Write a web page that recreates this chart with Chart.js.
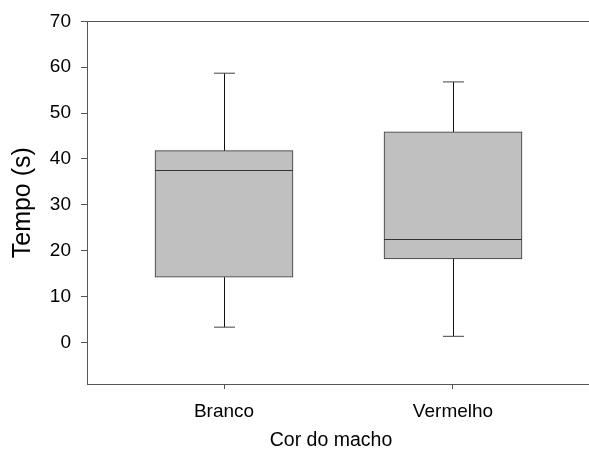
<!DOCTYPE html>
<html>
<head>
<meta charset="utf-8">
<script src="https://cdn.jsdelivr.net/npm/chart.js@4/dist/chart.umd.min.js"></script>
<style>
  html, body { margin: 0; padding: 0; background: #fff; }
  #wrap { width: 589px; height: 450px; }
</style>
</head>
<body>
<div id="wrap"><canvas id="box" width="589" height="450"></canvas></div>
<script>
    const categories = ["Branco", "Vermelho"];
    const minVals = [3.3, 1.3];
    const q1Vals = [14.2, 18.2];
    const medians = [37.6, 22.5];
    const q3Vals = [41.8, 45.9];
    const maxVals = [58.7, 56.8];
    const yTicks = [0, 10, 20, 30, 40, 50, 60, 70];

    const FONT = "'Liberation Sans', Arial, sans-serif";
    const AXIS = "#555";

    // whiskers + medians drawn on top of the floating bars
    const boxExtras = {
        id: "boxExtras",
        afterDatasetsDraw(chart) {
            const { ctx, scales: { x, y } } = chart;
            const meta = chart.getDatasetMeta(0);
            ctx.save();
            ctx.lineWidth = 1;
            categories.forEach((c, i) => {
                const bar = meta.data[i];
                const cx = Math.round(x.getPixelForValue(i + 1)) + 0.5;
                const half = bar.width / 2;
                const cap = 10.5;
                const yMin = y.getPixelForValue(minVals[i]);
                const yMax = y.getPixelForValue(maxVals[i]);
                const yQ1 = y.getPixelForValue(q1Vals[i]);
                const yQ3 = y.getPixelForValue(q3Vals[i]);
                const yMed = Math.round(y.getPixelForValue(medians[i])) + 0.5;

                ctx.strokeStyle = "#111";
                ctx.beginPath();
                ctx.moveTo(cx, yQ3); ctx.lineTo(cx, yMax);
                ctx.moveTo(cx, yQ1); ctx.lineTo(cx, yMin);
                ctx.stroke();

                ctx.strokeStyle = "#444";
                ctx.beginPath();
                ctx.moveTo(cx - cap, yMax); ctx.lineTo(cx + cap, yMax);
                ctx.moveTo(cx - cap, yMin); ctx.lineTo(cx + cap, yMin);
                ctx.stroke();

                ctx.strokeStyle = "#333";
                ctx.beginPath();
                ctx.moveTo(bar.x - half, yMed); ctx.lineTo(bar.x + half, yMed);
                ctx.stroke();
            });
            // top frame line, and both frame lines run on to the page edge
            const { left, right, top, bottom } = chart.chartArea;
            const t = Math.round(top) + 0.5;
            const b = Math.round(bottom) + 0.5;
            ctx.strokeStyle = AXIS;
            ctx.beginPath();
            ctx.moveTo(left, t);
            ctx.lineTo(chart.width, t);
            ctx.moveTo(right, b);
            ctx.lineTo(chart.width, b);
            ctx.stroke();
            ctx.restore();
        }
    };

    new Chart(document.getElementById("box"), {
        type: "bar",
        data: {
            datasets: [{
                data: categories.map((c, i) => ({ x: i + 1, y: [q1Vals[i], q3Vals[i]] })),
                backgroundColor: "#c0c0c0",
                borderColor: "#333",
                borderWidth: 1,
                borderSkipped: false,
                barThickness: 138,
            }],
        },
        options: {
            responsive: false,
            animation: false,
            layout: { padding: { top: 19, right: 14, left: 0, bottom: 0 } },
            plugins: { legend: { display: false }, tooltip: { enabled: false } },
            scales: {
                x: {
                    type: "linear",
                    offset: false,
                    bounds: "data",
                    min: 0.4017,
                    max: 2.5328,
                    afterBuildTicks: (s) => { s.ticks = categories.map((c, i) => ({ value: i + 1 })); },
                    afterFit: (s) => { s.height = 66; },
                    ticks: {
                        callback: (v) => categories[v - 1] || "",
                        color: "#000",
                        font: { family: FONT, size: 19 },
                        padding: 11,
                        maxRotation: 0,
                    },
                    grid: { offset: false, drawOnChartArea: false, drawTicks: true, tickLength: 5, tickColor: AXIS },
                    border: { color: AXIS, width: 1 },
                    title: {
                        display: true,
                        text: "Cor do macho",
                        color: "#000",
                        font: { family: FONT, size: 19.5 },
                        padding: { top: 0, bottom: -2 },
                    },
                },
                y: {
                    min: -9.1,
                    max: 70,
                    afterBuildTicks: (s) => { s.ticks = yTicks.map((v) => ({ value: v })); },
                    afterFit: (s) => { s.width = 87; },
                    ticks: {
                        color: "#000",
                        font: { family: FONT, size: 19 },
                        padding: 10,
                    },
                    grid: { drawOnChartArea: false, drawTicks: true, tickLength: 6, tickColor: AXIS },
                    border: { color: AXIS, width: 1 },
                    title: {
                        display: true,
                        text: "Tempo (s)",
                        color: "#000",
                        font: { family: FONT, size: 25 },
                        padding: { top: 8, bottom: 0 },
                    },
                },
            },
        },
        plugins: [boxExtras],
    });
</script>
</body>
</html>
